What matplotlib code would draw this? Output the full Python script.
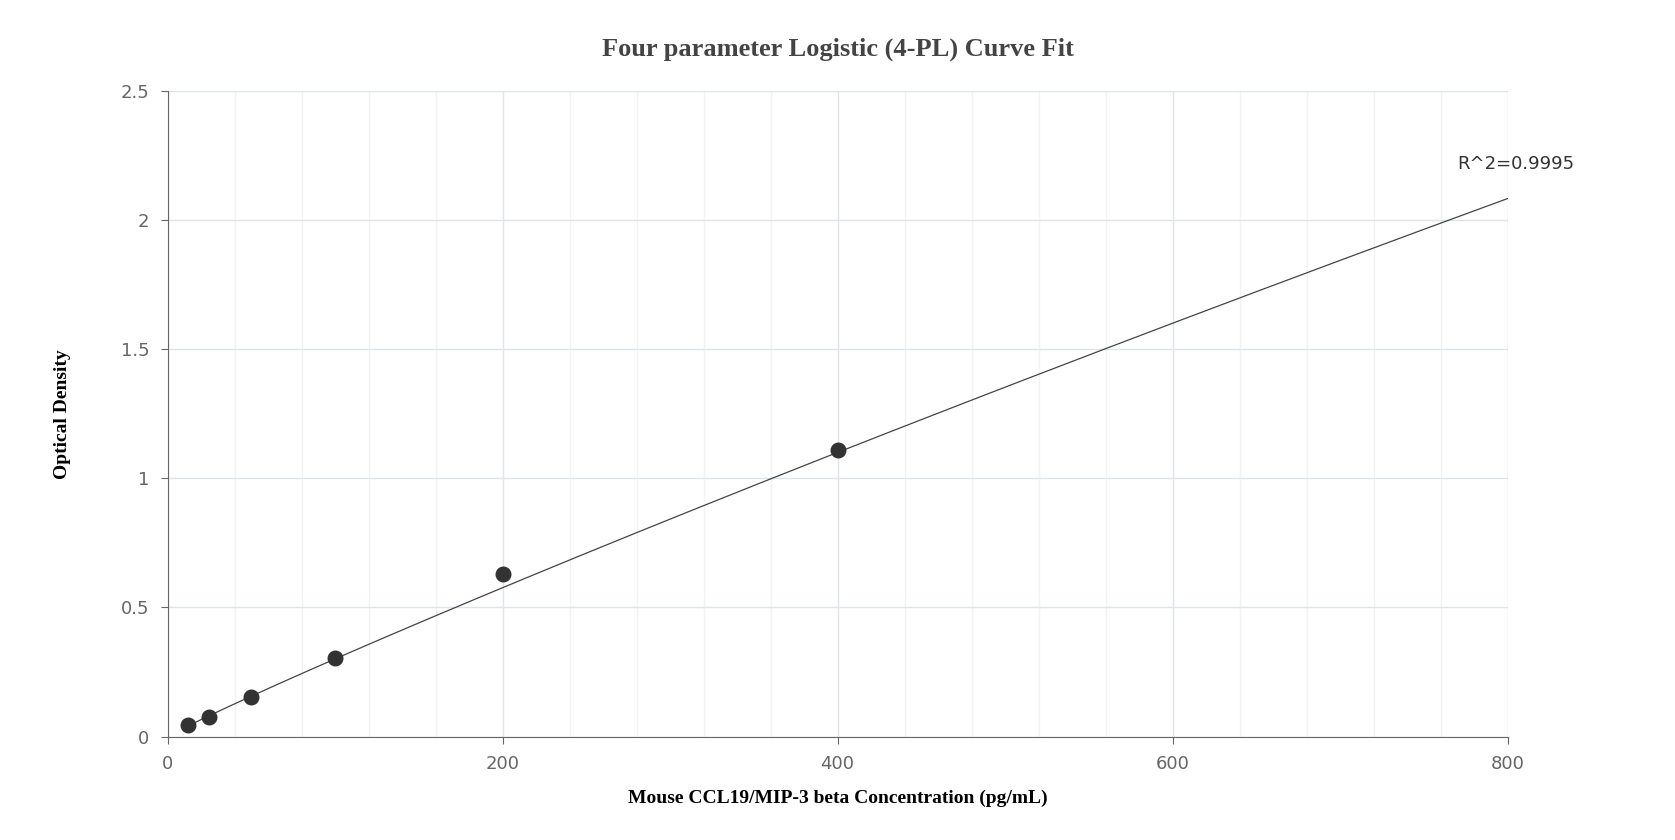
import numpy as np
import matplotlib
matplotlib.use("Agg")
import matplotlib.pyplot as plt

conc = [12.5, 25, 50, 100, 200, 400]
od = [0.045, 0.078, 0.155, 0.305, 0.63, 1.11]
# 4PL fit parameters (A, B, C, D)
A, B, C, D = 0.0, 0.945, 27000.0, 60.0
r2_label = "R^2=0.9995"

def fpl(x):
    return D + (A - D) / (1 + (x / C) ** B)

fig = plt.figure(figsize=(16.75, 8.4), dpi=100)
ax = fig.add_axes([0.100, 0.123, 0.800, 0.769])
ax.set_xlim(0, 800)
ax.set_ylim(0, 2.5)
ax.set_xticks([0, 200, 400, 600, 800])
ax.set_yticks([0, 0.5, 1, 1.5, 2, 2.5])
ax.set_yticklabels(["0", "0.5", "1", "1.5", "2", "2.5"])
ax.set_xticks(np.arange(40, 800, 40), minor=True)
ax.grid(True, which="major", color="#e0e3e8", lw=1)
ax.grid(True, which="minor", axis="x", color="#f1f2f5", lw=1)
ax.set_axisbelow(True)
for s in ["top", "right"]:
    ax.spines[s].set_visible(False)
for s in ["left", "bottom"]:
    ax.spines[s].set_color("#666666")
ax.tick_params(which="both", length=0, pad=8, labelsize=13, labelcolor="#666666")
ax.tick_params(which="major", axis="both", length=5, color="#666666")
ax.tick_params(which="minor", length=0)

xs = np.linspace(conc[0], 800, 400)
ax.plot(xs, fpl(xs), color="#444444", lw=0.9)
ax.scatter(conc, od, s=110, color="#333333", zorder=3)
ax.text(770, 2.18, r2_label, fontsize=13, color="#333333", ha="left", va="bottom")

ax.set_xlabel("Mouse CCL19/MIP-3 beta Concentration (pg/mL)", fontsize=14,
              fontweight="bold", family="Liberation Serif", labelpad=12)
ax.set_ylabel("Optical Density", fontsize=14, fontweight="bold",
              family="Liberation Serif", labelpad=36)
fig.suptitle("Four parameter Logistic (4-PL) Curve Fit", fontsize=19, fontweight="bold",
             family="Liberation Serif", color="#444444", y=0.955)
fig.savefig("out.png", dpi=100)
